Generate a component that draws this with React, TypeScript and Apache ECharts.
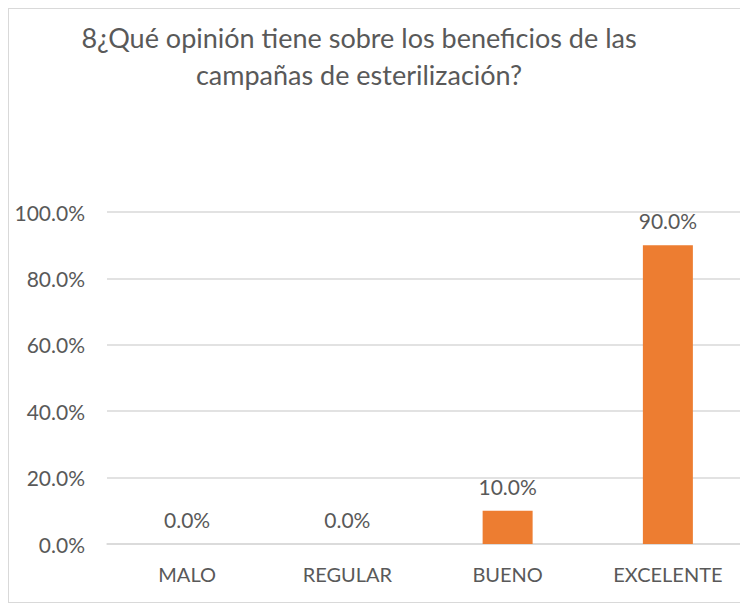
import React, { useEffect, useRef } from "react";
import * as echarts from "echarts";

const titleLines = ["8¿Qué opinión tiene sobre los beneficios de las", "campañas de esterilización?"];
const categories = ["MALO", "REGULAR", "BUENO", "EXCELENTE"];
const values = [0.0, 0.0, 10.0, 90.0];
const yTicks = [0, 20, 40, 60, 80, 100];

const FONT = "Lato, 'Open Sans', sans-serif";
const TEXT = "#595959";

export default function App() {
  const ref = useRef<HTMLDivElement>(null);
  useEffect(() => {
    if (!ref.current) return;
    const chart = echarts.init(ref.current, undefined, { renderer: "svg" });
    chart.setOption({
      animation: false,
      textStyle: { fontFamily: FONT },
      graphic: titleLines.map((t, i) => ({
        type: "text",
        x: 350,
        y: 28 + i * 37,
        style: {
          text: t,
          fill: TEXT,
          font: `27px ${FONT}`,
          textAlign: "center",
          textVerticalAlign: "middle",
        },
      })),
      grid: { left: 98, right: -6, top: 203, bottom: 58, containLabel: false },
      xAxis: {
        type: "category",
        data: categories,
        axisLine: { show: true, lineStyle: { color: "#d9d9d9", width: 1.5 } },
        axisTick: { show: false },
        axisLabel: { color: TEXT, fontSize: 20, fontFamily: FONT, margin: 20 },
      },
      yAxis: {
        type: "value",
        min: 0,
        max: 100,
        interval: 20,
        axisLine: { show: false },
        axisTick: { show: false },
        splitLine: { lineStyle: { color: "#d9d9d9", width: 1.5 } },
        axisLabel: {
          color: TEXT,
          fontSize: 21,
          fontFamily: FONT,
          margin: 22,
          formatter: (v: number) => (yTicks.includes(v) ? v.toFixed(1) + "%" : ""),
        },
      },
      series: [
        {
          type: "bar",
          data: values,
          barWidth: 50,
          itemStyle: { color: "#ED7D31" },
          label: {
            show: true,
            position: "top",
            distance: 14,
            color: TEXT,
            fontSize: 21,
            fontFamily: FONT,
            formatter: (p: any) => Number(p.value).toFixed(1) + "%",
          },
        },
      ],
    });
    return () => chart.dispose();
  }, []);
  return (
    <div
      ref={ref}
      style={{
        width: 740,
        height: 595,
        borderTop: "1px solid #d9d9d9",
        borderLeft: "1px solid #d9d9d9",
        borderBottom: "1px solid #d9d9d9",
        boxSizing: "border-box",
        background: "#fff",
      }}
    />
  );
}
